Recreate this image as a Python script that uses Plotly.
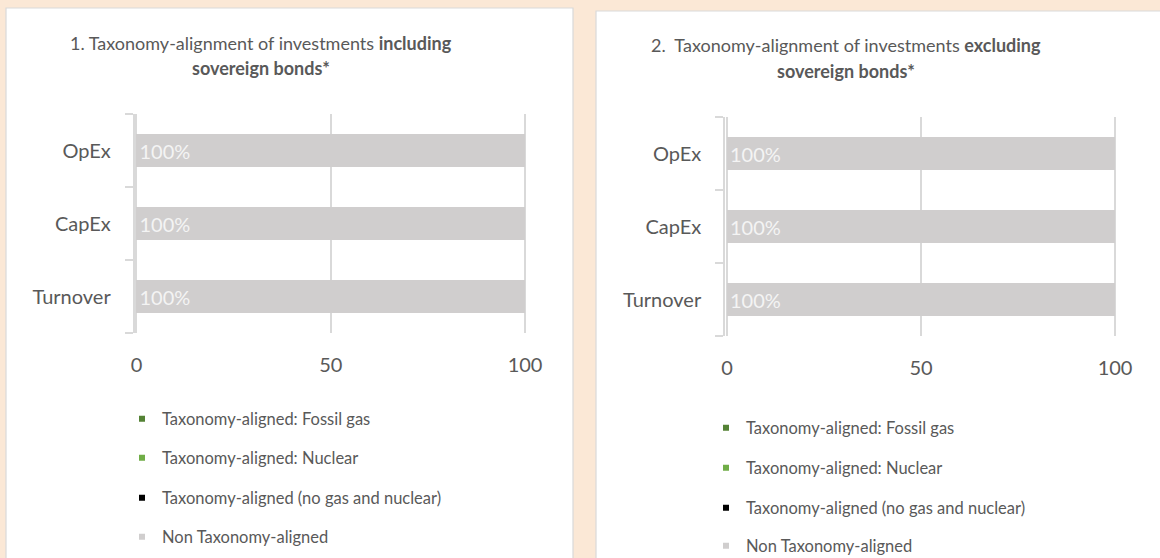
import plotly.graph_objects as go

W, H = 1160, 558

# ---------------- data ----------------
categories = ["Turnover", "CapEx", "OpEx"]
series_names = [
    "Taxonomy-aligned: Fossil gas",
    "Taxonomy-aligned: Nuclear",
    "Taxonomy-aligned (no gas and nuclear)",
    "Non Taxonomy-aligned",
]
series_colors = ["#548235", "#70AD47", "#000000", "#D0CECE"]

incl_fossil_gas = [0, 0, 0]
incl_nuclear = [0, 0, 0]
incl_aligned = [0, 0, 0]
incl_non_aligned = [100, 100, 100]

excl_fossil_gas = [0, 0, 0]
excl_nuclear = [0, 0, 0]
excl_aligned = [0, 0, 0]
excl_non_aligned = [100, 100, 100]

incl_labels = ["100%", "100%", "100%"]
excl_labels = ["100%", "100%", "100%"]

x_ticks = [0, 50, 100]

title1_l1 = "1. Taxonomy-alignment of investments <b>including</b>"
title1_l2 = "<b>sovereign bonds*</b>"
title2_l1 = "2.  Taxonomy-alignment of investments <b>excluding</b>"
title2_l2 = "<b>sovereign bonds*</b>"

# ---------------- helpers ----------------
def px(x):
    return x / W


def py(y):
    return 1 - y / H


FONT = "Lato, Carlito, 'Open Sans', sans-serif"
TXT = "#595959"
GRID = "#D9D9D9"
BG = "#FBE8D6"

fig = go.Figure()

panels = [
    dict(
        vals=[incl_fossil_gas, incl_nuclear, incl_aligned, incl_non_aligned],
        labels=incl_labels, xa="x", ya="y",
        leg_x=122, leg_y=[419, 458, 498, 537], leg_ids=["legend", "legend2", "legend3", "legend4"],
    ),
    dict(
        vals=[excl_fossil_gas, excl_nuclear, excl_aligned, excl_non_aligned],
        labels=excl_labels, xa="x2", ya="y2",
        leg_x=706, leg_y=[428, 468, 508, 546], leg_ids=["legend5", "legend6", "legend7", "legend8"],
    ),
]

legend_layout = {}
for p in panels:
    for i, (name, color, vals) in enumerate(zip(series_names, series_colors, p["vals"])):
        is_last = i == len(series_names) - 1
        fig.add_trace(go.Bar(
            y=categories, x=vals, orientation="h", name=name,
            marker=dict(color=color, line=dict(width=0)),
            text=p["labels"] if is_last else None,
            textposition="inside" if is_last else "none",
            insidetextanchor="start",
            insidetextfont=dict(family=FONT, size=20, color="#F4F4F4"),
            xaxis=p["xa"], yaxis=p["ya"], showlegend=False, hoverinfo="skip",
        ))
    # legend entries (small squares like the original)
    for i, (name, color) in enumerate(zip(series_names, series_colors)):
        lid = p["leg_ids"][i]
        fig.add_trace(go.Scatter(
            x=[None], y=[None], mode="markers", name=name,
            marker=dict(symbol="square", size=6, color=color),
            xaxis=p["xa"], yaxis=p["ya"], legend=lid, showlegend=True,
        ))
        legend_layout[lid] = dict(
            x=px(p["leg_x"]), y=py(p["leg_y"][i]), xanchor="left", yanchor="middle",
            orientation="v", bgcolor="rgba(0,0,0,0)", borderwidth=0,
            font=dict(family=FONT, size=16.5, color=TXT),
            itemclick=False, itemdoubleclick=False,
        )

# ---------------- panels (white boxes) ----------------
shapes = [
    dict(type="rect", xref="paper", yref="paper", x0=px(6), x1=px(573), y0=py(566), y1=py(8),
         fillcolor="white", line=dict(color=GRID, width=1.2), layer="below"),
    dict(type="rect", xref="paper", yref="paper", x0=px(596), x1=px(1166), y0=py(566), y1=py(11),
         fillcolor="white", line=dict(color=GRID, width=1.2), layer="below"),
]

xaxis_common = dict(
    range=[-0.5, 100.5], tickvals=x_ticks, showgrid=True, gridcolor=GRID, gridwidth=1.6,
    zeroline=False, showline=False, ticks="outside", ticklen=14, tickcolor="rgba(0,0,0,0)",
    tickfont=dict(family=FONT, size=20, color=TXT), fixedrange=True, automargin=False,
)
yaxis_common = dict(
    type="category", categoryorder="array", categoryarray=categories,
    showline=True, linecolor=GRID, linewidth=1.6, ticks="outside", ticklen=8,
    tickcolor=GRID, tickwidth=1.6, tickson="boundaries", showgrid=False,
    tickfont=dict(family=FONT, size=20, color=TXT), ticklabelstandoff=18,
    fixedrange=True, automargin=False,
)

annotations = [
    dict(text=title1_l1, x=px(261), y=py(43)),
    dict(text=title1_l2, x=px(261), y=py(68)),
    dict(text=title2_l1, x=px(846), y=py(45)),
    dict(text=title2_l2, x=px(846), y=py(71)),
]
for a in annotations:
    a.update(xref="paper", yref="paper", showarrow=False, xanchor="center", yanchor="middle",
             font=dict(family=FONT, size=18, color=TXT))

fig.update_layout(
    width=W, height=H, margin=dict(l=0, r=0, t=0, b=0, autoexpand=False),
    paper_bgcolor=BG, plot_bgcolor="rgba(0,0,0,0)",
    barmode="stack", bargap=0.56,
    shapes=shapes, annotations=annotations,
    xaxis=dict(domain=[px(134.5), px(527)], anchor="y", **xaxis_common),
    yaxis=dict(domain=[py(333), py(114)], anchor="x", **yaxis_common),
    xaxis2=dict(domain=[px(725), px(1117)], anchor="y2", **xaxis_common),
    yaxis2=dict(domain=[py(336), py(117)], anchor="x2", **yaxis_common),
    showlegend=True,
    **legend_layout,
)

fig.write_html(
    "out.html",
    config={"displayModeBar": False},
    post_script=(
        "document.body.style.margin='0';"
        "document.body.style.overflow='hidden';"
        "document.body.style.background='%s';" % BG
    ),
)
